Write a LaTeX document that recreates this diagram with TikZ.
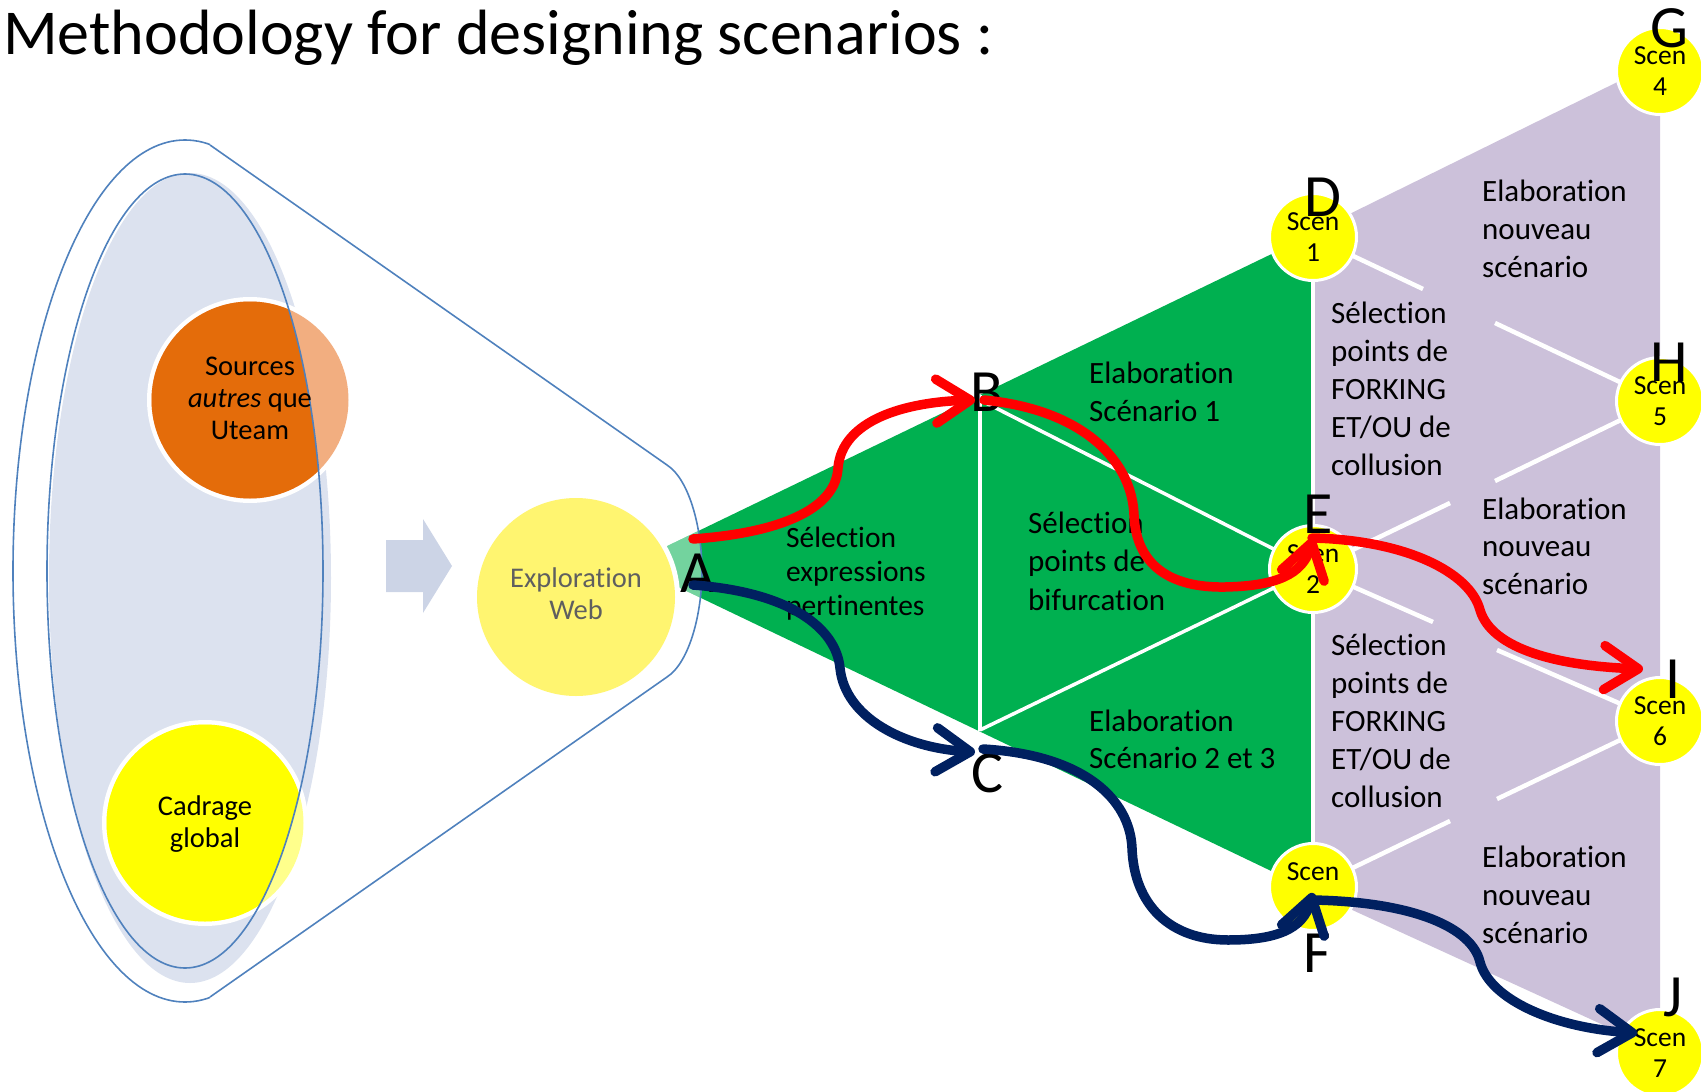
\documentclass[tikz,border=0pt]{standalone}
\usepackage{fontspec}
\setmainfont{Carlito}[Ligatures=NoCommon]
\usetikzlibrary{arrows.meta}
\definecolor{grn}{HTML}{00B050}
\definecolor{prp}{HTML}{CCC1DA}
\definecolor{ylw}{HTML}{FFFF00}
\definecolor{org}{HTML}{E46C0A}
\definecolor{orgl}{HTML}{F2AE80}
\definecolor{ylwl}{HTML}{FFFF8C}
\definecolor{expl}{HTML}{FFF570}
\definecolor{bluefill}{HTML}{DCE2EF}
\definecolor{blueline}{HTML}{4F81BD}
\definecolor{arrowfill}{HTML}{CCD4E6}
\definecolor{navy}{HTML}{002060}
\definecolor{redc}{HTML}{FF0000}
\definecolor{grytxt}{HTML}{5F5F5F}
\begin{document}
\begin{tikzpicture}[x=1pt,y=-1pt,
  wline/.style={draw=white, line width=3.5pt},
  pline/.style={draw=white, line width=4.5pt},
  scen/.style={circle, fill=ylw, draw=white, line width=3pt, minimum size=87pt, inner sep=0pt, align=center, font=\fontsize{27.5}{31}\selectfont},
  letter/.style={font=\fontsize{60}{60}\selectfont, inner sep=0pt},
  bodytxt/.style={inner sep=0pt, anchor=base west, font=\fontsize{31}{38}\selectfont},
  circtxt/.style={inner sep=0pt, align=center, font=\fontsize{28.5}{32}\selectfont},
  redarr/.style={draw=redc, line width=9.5pt, line cap=round, -{Straight Barb[length=34pt,width=44pt,round]}},
  navyarr/.style={draw=navy, line width=9.5pt, line cap=round, -{Straight Barb[length=34pt,width=44pt,round]}},
  outl/.style={draw=blueline, line width=1.6pt}
]
\useasboundingbox (0,0) rectangle (1701,1092);

% ---------------- green and purple regions
\fill[grn] (630,564) -- (1313,234) -- (1313,891) -- cycle;
\fill[prp] (1313,232) -- (1660,61) -- (1660,1051) -- (1313,892) -- cycle;

\draw[wline] (980,395) -- (980,731);
\draw[wline] (980,400) -- (1313,569);
\draw[wline] (980,730) -- (1313,569);
\draw[wline] (1313,234) -- (1313,891);

\draw[pline] (1313,237) -- (1423,289);
\draw[pline] (1495,323) -- (1660,401);
\draw[pline] (1660,401) -- (1495,481);
\draw[pline] (1450,503) -- (1313,569);
\draw[pline] (1313,569) -- (1433,622);
\draw[pline] (1497,650) -- (1660,721);
\draw[pline] (1660,721) -- (1497,799);
\draw[pline] (1450,821) -- (1313,887);

% ---------------- left part
\fill[bluefill] (190,578) ellipse [x radius=141, y radius=405];

\fill[white] (250,400) circle (103);
\fill[orgl] (250,400) circle (98.5);
\begin{scope}
  \clip (185,571) ellipse [x radius=138, y radius=397];
  \fill[org] (250,400) circle (98.5);
\end{scope}

\fill[white] (205,823) circle (103);
\fill[ylwl] (205,823) circle (98.5);
\begin{scope}
  \clip (185,571) ellipse [x radius=138, y radius=397];
  \fill[ylw] (205,823) circle (98.5);
\end{scope}

\draw[outl] (185,571) ellipse [x radius=138, y radius=397];

% lighter green inside the funnel
\begin{scope}
  \clip (210,145) -- (667,465) .. controls (690,480) and (702,530) .. (702,571)
        .. controls (702,612) and (690,662) .. (667,677) -- (210,997) -- cycle;
  \fill[white, opacity=0.45] (630,564) -- (1313,234) -- (1313,891) -- cycle;
\end{scope}

% funnel outline
\begin{scope}
  \clip (0,0) rectangle (210,1092);
  \draw[outl] (185,571) ellipse [x radius=172, y radius=431];
\end{scope}
\draw[outl] (210,145) -- (667,465) .. controls (690,480) and (702,530) .. (702,571)
      .. controls (702,612) and (690,662) .. (667,677) -- (210,997);

% block arrow
\fill[arrowfill] (386,540) -- (423,540) -- (423,519) -- (452,566) -- (423,613) -- (423,592) -- (386,592) -- cycle;

% exploration web
\fill[white] (576,597) circle (104);
\fill[expl] (576,597) circle (99);

\node[circtxt] (tSources) at (250,398) {Sources\\\textit{autres} que\\Uteam};
\node[circtxt] (tCadrage) at (205,824) {Cadrage\\global};
\node[circtxt, text=grytxt] (tExplo) at (576,594) {Exploration\\Web};

% ---------------- scenario circles
\node[scen] (cD) at (1313,237) {Scen\\1};
\node[scen] (cE) at (1313,569) {Scen\\2};
\node[scen] (cF) at (1313,887) {Scen\\\phantom{3}};
\node[scen] (cG) at (1660,71) {Scen\\4};
\node[scen] (cH) at (1660,401) {Scen\\5};
\node[scen] (cI) at (1660,721) {Scen\\6};
\node[scen] (cJ) at (1660,1053) {Scen\\7};

% ---------------- texts
\node[anchor=base west, inner sep=0pt, font=\fontsize{64}{64}\selectfont] (title) at (3,54) {Methodology for designing scenarios :};

\node[bodytxt, font=\fontsize{29.5}{34}\selectfont] (tSelExp) at (786,547) {\vtop{\hbox{Sélection}\hbox{expressions}\hbox{pertinentes}}};
\node[bodytxt] (tElab1) at (1089,383) {\vtop{\hbox{Elaboration}\hbox{Scénario 1}}};
\node[bodytxt, font=\fontsize{31}{38.5}\selectfont] (tSelBif) at (1028,533) {\vtop{\hbox{Sélection}\hbox{points de}\hbox{bifurcation}}};
\node[bodytxt, font=\fontsize{31}{37}\selectfont] (tElab23) at (1089,731) {\vtop{\hbox{Elaboration}\hbox{Scénario 2 et 3}}};
\node[bodytxt] (tFork1) at (1331,323) {\vtop{\hbox{Sélection}\hbox{points de}\hbox{FORKING}\hbox{ET/OU de}\hbox{collusion}}};
\node[bodytxt, font=\fontsize{31}{38.2}\selectfont] (tFork2) at (1331,655) {\vtop{\hbox{Sélection}\hbox{points de}\hbox{FORKING}\hbox{ET/OU de}\hbox{collusion}}};
\node[bodytxt] (tNew1) at (1482,201) {\vtop{\hbox{Elaboration}\hbox{nouveau}\hbox{scénario}}};
\node[bodytxt, font=\fontsize{31}{37.5}\selectfont] (tNew2) at (1482,519) {\vtop{\hbox{Elaboration}\hbox{nouveau}\hbox{scénario}}};
\node[bodytxt] (tNew3) at (1482,867) {\vtop{\hbox{Elaboration}\hbox{nouveau}\hbox{scénario}}};

% ---------------- letters
\node[letter] (lA) at (698,573) {A};
\node[letter] (lB) at (987,392) {B};
\node[letter] (lC) at (987,773) {C};
\node[letter] (lD) at (1323,197) {D};
\node[letter] (lE) at (1318,514) {E};
\node[letter] (lF) at (1317,953) {F};
\node[letter] (lG) at (1669,28) {G};
\node[letter] (lH) at (1669,362) {H};
\node[letter] (lI) at (1673,679) {I};
\node[letter] (lJ) at (1673,997) {J};

% ---------------- path arrows
\coordinate (rA) at (693,539);
\coordinate (rB) at (975,400);
\coordinate (rB2) at (984,400);
\coordinate (rE) at (1313,538);
\coordinate (rE2) at (1312,538);
\coordinate (rI) at (1643,669);
\coordinate (nA) at (693,585);
\coordinate (nC) at (975,752);
\coordinate (nC2) at (983,749);
\coordinate (nF) at (1313,893);
\coordinate (nF2) at (1313,900);
\coordinate (nJ) at (1637,1033);

\draw[redarr] (rA) .. controls (790,532) and (836,505) .. (838,468)
   .. controls (842,420) and (905,402) .. (rB);
\draw[redarr] (rB2) .. controls (1085,410) and (1132,462) .. (1134,515)
   .. controls (1136,565) and (1170,588) .. (1225,587)
   .. controls (1275,586) and (1303,575) .. (rE);
\draw[redarr] (rE2) .. controls (1405,540) and (1470,572) .. (1480,610)
   .. controls (1492,650) and (1560,666) .. (rI);

\draw[navyarr] (nA) .. controls (790,592) and (836,628) .. (840,668)
   .. controls (845,718) and (905,748) .. (nC);
\draw[navyarr] (nC2) .. controls (1085,755) and (1130,800) .. (1132,848)
   .. controls (1134,905) and (1170,940) .. (1228,940)
   .. controls (1275,940) and (1303,930) .. (nF);
\draw[navyarr] (nF2) .. controls (1415,902) and (1472,928) .. (1480,962)
   .. controls (1490,1000) and (1555,1028) .. (nJ);
\end{tikzpicture}
\end{document}
